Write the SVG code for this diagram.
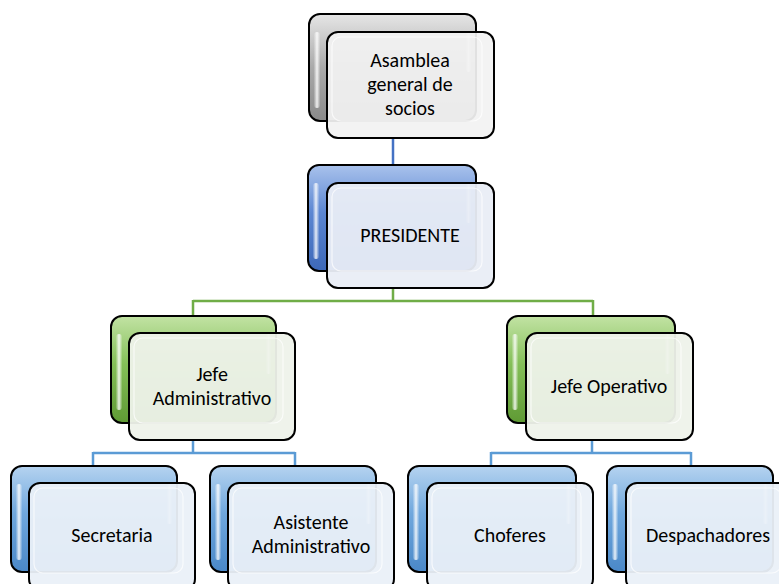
<svg xmlns="http://www.w3.org/2000/svg" width="779" height="584" viewBox="0 0 779 584">
<defs>
<linearGradient id="gGray" x1="0" y1="0" x2="0" y2="1"><stop offset="0" stop-color="#e6e6e6"/><stop offset="0.5" stop-color="#a9a9a9"/><stop offset="1" stop-color="#8a8a8a"/></linearGradient>
<linearGradient id="gBlue" x1="0" y1="0" x2="0" y2="1"><stop offset="0" stop-color="#a9c2ec"/><stop offset="0.45" stop-color="#5b86d2"/><stop offset="1" stop-color="#3d68b8"/></linearGradient>
<linearGradient id="gGreen" x1="0" y1="0" x2="0" y2="1"><stop offset="0" stop-color="#c2e3a4"/><stop offset="0.45" stop-color="#84bf58"/><stop offset="1" stop-color="#5f9a34"/></linearGradient>
<linearGradient id="gLBlue" x1="0" y1="0" x2="0" y2="1"><stop offset="0" stop-color="#b5d3f0"/><stop offset="0.45" stop-color="#6fa7dd"/><stop offset="1" stop-color="#4a88c8"/></linearGradient>
<linearGradient id="gHi" x1="0" y1="0" x2="1" y2="0"><stop offset="0" stop-color="#fff" stop-opacity="0.1"/><stop offset="0.5" stop-color="#fff" stop-opacity="0.85"/><stop offset="1" stop-color="#fff" stop-opacity="0.1"/></linearGradient>
</defs>
<style>
.back{stroke:#000;stroke-width:2}
.front{stroke:#000;stroke-width:2}
.inner{fill:none;stroke:#fff;stroke-opacity:0.7;stroke-width:1.2}
.hi{fill:url(#gHi)}
.t{font-family:Carlito,Lato,"Liberation Sans",sans-serif;font-size:20px;fill:#000;text-anchor:middle}
.cn{fill:none;stroke-width:2.5}
</style>
<g id="connectors">
<path class="cn" stroke="#4472c4" d="M393,138 V166"/>
<path class="cn" stroke="#70ad47" d="M393,288 V301 M193,301 H593 M193,300 V317 M593,300 V317"/>
<path class="cn" stroke="#5b9bd5" d="M193,440 V453 M93,453 H295 M93,452 V467 M295,452 V467"/>
<path class="cn" stroke="#5b9bd5" d="M592,440 V453 M491,453 H691 M491,452 V467 M691,452 V467"/>
</g>
<g id="n-asamblea">
<rect class="back" x="309" y="14" width="167" height="107" rx="11" fill="url(#gGray)"/>
<rect class="hi" x="314" y="32" width="6" height="76" rx="3"/>
<rect class="hi" x="466" y="32" width="5" height="40" rx="2.5"/>
<rect class="front" x="327" y="32" width="167" height="106" rx="11" fill="#f2f2f2" fill-opacity="0.93"/>
<rect class="inner" x="332" y="37" width="150" height="84" rx="9"/>
<text class="t" x="410" y="67">Asamblea</text>
<text class="t" x="410" y="91">general de</text>
<text class="t" x="410" y="115">socios</text>
</g>
<g id="n-presidente">
<rect class="back" x="308" y="165" width="168" height="106" rx="11" fill="url(#gBlue)"/>
<rect class="hi" x="313" y="183" width="6" height="76" rx="3"/>
<rect class="hi" x="466" y="183" width="5" height="40" rx="2.5"/>
<rect class="front" x="327" y="183" width="167" height="105" rx="11" fill="#e9edf6" fill-opacity="0.95"/>
<rect class="inner" x="332" y="188" width="150" height="83" rx="9"/>
<text class="t" x="410" y="242">PRESIDENTE</text>
</g>
<g id="n-jefe-admin">
<rect class="back" x="111" y="316" width="165" height="107" rx="11" fill="url(#gGreen)"/>
<rect class="hi" x="116" y="334" width="6" height="76" rx="3"/>
<rect class="hi" x="266" y="334" width="5" height="40" rx="2.5"/>
<rect class="front" x="129" y="333" width="166" height="107" rx="11" fill="#eef2ea" fill-opacity="0.95"/>
<rect class="inner" x="134" y="338" width="149" height="85" rx="9"/>
<text class="t" x="212" y="381">Jefe</text>
<text class="t" x="212" y="405">Administrativo</text>
</g>
<g id="n-jefe-oper">
<rect class="back" x="507" y="316" width="168" height="107" rx="11" fill="url(#gGreen)"/>
<rect class="hi" x="512" y="334" width="6" height="76" rx="3"/>
<rect class="hi" x="665" y="334" width="5" height="40" rx="2.5"/>
<rect class="front" x="526" y="333" width="167" height="107" rx="11" fill="#eef2ea" fill-opacity="0.95"/>
<rect class="inner" x="531" y="338" width="150" height="85" rx="9"/>
<text class="t" x="609" y="393">Jefe Operativo</text>
</g>
<g id="n-secretaria">
<rect class="back" x="11" y="466" width="166" height="106" rx="11" fill="url(#gLBlue)"/>
<rect class="hi" x="16" y="484" width="6" height="76" rx="3"/>
<rect class="hi" x="167" y="484" width="5" height="40" rx="2.5"/>
<rect class="front" x="29" y="483" width="166" height="107" rx="11" fill="#eaf0f8" fill-opacity="0.95"/>
<rect class="inner" x="34" y="488" width="149" height="85" rx="9"/>
<text class="t" x="112" y="542">Secretaria</text>
</g>
<g id="n-asistente">
<rect class="back" x="210" y="466" width="166" height="106" rx="11" fill="url(#gLBlue)"/>
<rect class="hi" x="215" y="484" width="6" height="76" rx="3"/>
<rect class="hi" x="366" y="484" width="5" height="40" rx="2.5"/>
<rect class="front" x="228" y="483" width="166" height="107" rx="11" fill="#eaf0f8" fill-opacity="0.95"/>
<rect class="inner" x="233" y="488" width="149" height="85" rx="9"/>
<text class="t" x="311" y="529">Asistente</text>
<text class="t" x="311" y="553">Administrativo</text>
</g>
<g id="n-choferes">
<rect class="back" x="408" y="466" width="168" height="106" rx="11" fill="url(#gLBlue)"/>
<rect class="hi" x="413" y="484" width="6" height="76" rx="3"/>
<rect class="hi" x="566" y="484" width="5" height="40" rx="2.5"/>
<rect class="front" x="427" y="483" width="166" height="107" rx="11" fill="#eaf0f8" fill-opacity="0.95"/>
<rect class="inner" x="432" y="488" width="149" height="85" rx="9"/>
<text class="t" x="510" y="542">Choferes</text>
</g>
<g id="n-despachadores">
<rect class="back" x="607" y="466" width="166" height="106" rx="11" fill="url(#gLBlue)"/>
<rect class="hi" x="612" y="484" width="6" height="76" rx="3"/>
<rect class="hi" x="763" y="484" width="5" height="40" rx="2.5"/>
<rect class="front" x="626" y="483" width="167" height="107" rx="11" fill="#eaf0f8" fill-opacity="0.95"/>
<rect class="inner" x="631" y="488" width="150" height="85" rx="9"/>
<text class="t" x="708" y="542">Despachadores</text>
</g>
</svg>
